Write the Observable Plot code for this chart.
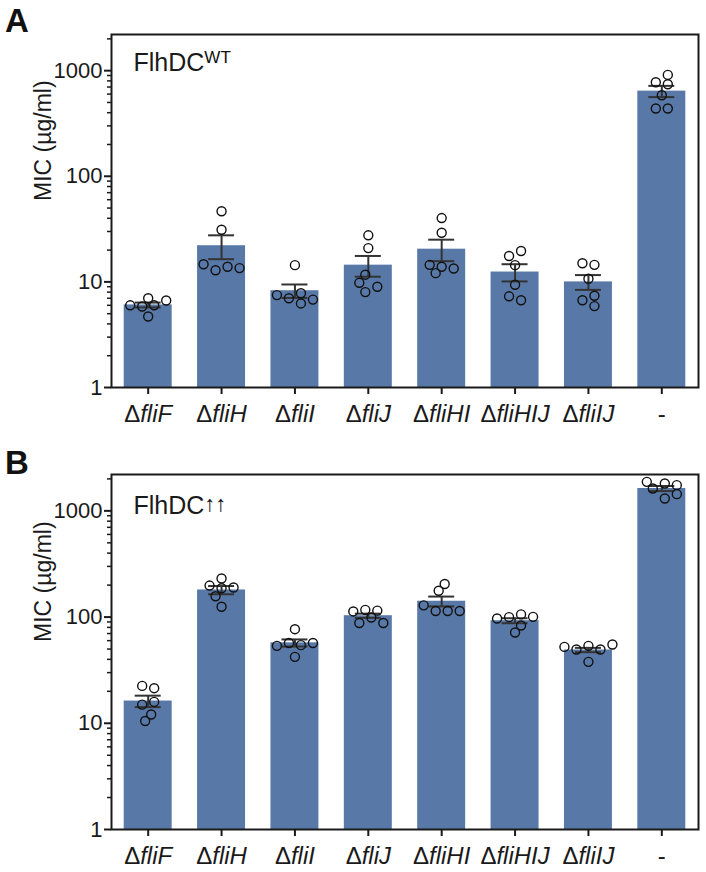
<!DOCTYPE html>
<html>
<head>
<meta charset="utf-8">
<script src="https://cdn.jsdelivr.net/npm/d3@7"></script>
<script src="https://cdn.jsdelivr.net/npm/@observablehq/plot@0.6"></script>
<style>
  body { margin: 0; background: #fff; }
  #wrap { position: relative; width: 706px; height: 872px; font-family: "Liberation Sans", Arial, sans-serif; }
  .panel { position: absolute; left: 0; }
  .letter { position: absolute; left: 5px; font-family: "Liberation Sans", Arial, sans-serif; font-weight: bold; font-size: 33px; line-height: 1; z-index: 2; color: #111; }
</style>
</head>
<body>
<div id="wrap">
  <div id="pa" class="panel" style="top:0px"></div>
  <div id="pb" class="panel" style="top:436px"></div>
  <div class="letter" style="top:4px">A</div>
  <div class="letter" style="top:446px">B</div>
</div>
<script>
// ---------- data ----------
const strains = ["ΔfliF", "ΔfliH", "ΔfliI", "ΔfliJ", "ΔfliHI", "ΔfliHIJ", "ΔfliIJ", "-"];
const yLabel = "MIC (µg/ml)";
const majorTicks = [1, 10, 100, 1000];
const minorTicks = [2, 3, 4, 5, 6, 7, 8, 9, 20, 30, 40, 50, 60, 70, 80, 90, 200, 300, 400, 500, 600, 700, 800, 900, 2000];

// Panel A: FlhDC WT
const meanA = [6.05, 22.0, 8.25, 14.4, 20.4, 12.4, 10.0, 640];
const semA  = [0.32, 5.6, 1.2, 3.2, 4.7, 2.3, 1.6, 78];
const pointsA = [
  [6.0, 7.0, 4.7, 5.85, 6.67, 6.0],
  [46.7, 31.2, 13.9, 12.9, 13.5, 14.7],
  [14.4, 7.8, 7.0, 6.25, 6.8, 7.5],
  [27.6, 20.9, 11.7, 9.8, 8.0, 9.0],
  [40.2, 29.2, 13.9, 12.1, 13.4, 14.5],
  [19.6, 17.6, 14.4, 9.4, 6.7, 7.3],
  [14.5, 15.0, 10.7, 7.4, 5.9, 6.7],
  [912, 743, 776, 585, 438, 438]
];

// Panel B: FlhDC ↑↑
const meanB = [16.2, 180, 57.2, 103, 141, 92.5, 49.0, 1625];
const semB  = [2.0, 16, 4.4, 4.7, 15, 5.0, 2.3, 90];
const pointsB = [
  [21.4, 22.5, 15.9, 15.0, 12.1, 10.5],
  [231, 187, 198, 190, 157, 125],
  [76.9, 54.4, 57, 57, 53.6, 42.2],
  [99, 117, 115, 113, 88, 88],
  [205, 177, 114, 114, 114, 129],
  [106, 99.8, 100.5, 97, 83.4, 71.6],
  [53.6, 49.5, 49.5, 52.4, 55.2, 37.9],
  [1811, 1625, 1746, 1875, 1309, 1437]
];

// ---------- helpers ----------
// simple beeswarm: horizontal pixel offsets so circles don't overlap
function dodge(values, pxPerDecade) {
  const minDist = 8.5;
  const ys = values.map(v => -Math.log10(v) * pxPerDecade);
  const cands = [0];
  for (let k = 1; k <= 8; k++) cands.push(-6 * k, 6 * k);
  const placed = [];
  const off = values.map((v, i) => {
    for (const c of cands) {
      if (placed.every(p => Math.hypot(p.x - c, p.y - ys[i]) >= minDist)) {
        placed.push({x: c, y: ys[i]});
        return c;
      }
    }
    placed.push({x: 0, y: ys[i]});
    return 0;
  });
  // center each vertically-connected cluster
  const order = d3.range(values.length).sort((a, b) => ys[a] - ys[b]);
  let comp = [order[0]];
  const comps = [];
  for (let k = 1; k < order.length; k++) {
    if (ys[order[k]] - ys[order[k - 1]] < minDist) comp.push(order[k]);
    else { comps.push(comp); comp = [order[k]]; }
  }
  comps.push(comp);
  for (const c of comps) {
    const lo = d3.min(c, j => off[j]), hi = d3.max(c, j => off[j]);
    const mid = (lo + hi) / 2;
    for (const j of c) off[j] -= mid;
  }
  return off;
}

function panel(el, opts) {
  const {means, sems, points, height, marginTop, marginBottom, sup, titleDy} = opts;
  const W = 706, ML = 111, MR = 8, ymax = 2200;
  const step = (W - ML - MR) / strains.length;
  const pxDec = (height - marginTop - marginBottom) / Math.log10(ymax);
  const bars = strains.map((s, i) => ({i, s, mean: means[i], sem: sems[i]}));
  const dots = points.flatMap((vals, i) => {
    const off = dodge(vals, pxDec);
    return vals.map((v, j) => ({i, v, x: i + off[j] / step}));
  });
  const ink = "#1a1a1a";
  const svg = Plot.plot({
    width: W, height, marginLeft: ML, marginRight: MR, marginTop, marginBottom,
    style: {fontFamily: '"Liberation Sans", Arial, sans-serif', color: ink, background: "#fff", overflow: "visible"},
    x: {domain: [-0.5, strains.length - 0.5]},
    y: {type: "log", domain: [1, ymax]},
    marks: [
      Plot.rectY(bars, {x1: d => d.i - 0.327, x2: d => d.i + 0.327, y1: () => 1, y2: "mean", fill: "#5879a8"}),
      Plot.ruleX(bars, {x: "i", y1: d => d.mean - d.sem, y2: d => d.mean + d.sem, stroke: "#333", strokeWidth: 2}),
      Plot.ruleY(bars, {x1: d => d.i - 0.177, x2: d => d.i + 0.177, y: d => d.mean + d.sem, stroke: "#333", strokeWidth: 2}),
      Plot.ruleY(bars, {x1: d => d.i - 0.177, x2: d => d.i + 0.177, y: d => d.mean - d.sem, stroke: "#333", strokeWidth: 2}),
      Plot.dot(dots, {x: "x", y: "v", r: 4.5, stroke: "#111", strokeWidth: 1.4, fill: "none"}),
      Plot.frame({stroke: ink, strokeWidth: 2}),
      Plot.axisY(majorTicks, {tickSize: 7, tickPadding: 2, fontSize: 22, strokeWidth: 2, label: null, tickFormat: d => String(d)}),
      Plot.axisY(minorTicks, {tickSize: 4, tickFormat: () => "", strokeWidth: 1.5, label: null}),
      Plot.axisX(d3.range(strains.length), {tickSize: 7, tickPadding: 10, fontSize: 24, strokeWidth: 2, label: null, tickFormat: i => strains[i]}),
      Plot.text([yLabel], {text: d => d, frameAnchor: "left", rotate: -90, dx: -68, dy: -10, fontSize: 23}),
      Plot.text(["FlhDC"], {text: d => d, frameAnchor: "top-left", textAnchor: "start", lineAnchor: "top", dx: 22, dy: titleDy, fontSize: 25})
    ]
  });
  const s = d3.select(svg);
  // italic gene names with upright Δ
  s.selectAll('g[aria-label="x-axis tick label"] text').each(function () {
    const t = this.textContent;
    if (t.startsWith("Δ")) {
      const sel = d3.select(this);
      sel.text(null);
      sel.append("tspan").text("Δ");
      sel.append("tspan").attr("font-style", "italic").text(t.slice(1));
    }
  });
  // superscript on title
  s.selectAll("text").each(function () {
    if (this.textContent === "FlhDC") {
      d3.select(this).append("tspan").attr("dy", sup.dy).attr("font-size", sup.size).attr("fill", "#111").text(sup.text);
    }
  });
  document.getElementById(el).appendChild(svg);
}

panel("pa", {means: meanA, sems: semA, points: pointsA, height: 436, marginTop: 34, marginBottom: 49,
  titleDy: 19, sup: {text: "WT", dy: -8, size: 17}});
panel("pb", {means: meanB, sems: semB, points: pointsB, height: 436, marginTop: 38, marginBottom: 43,
  titleDy: 22, sup: {text: "↑↑", dy: -3, size: 22}});
</script>
</body>
</html>
